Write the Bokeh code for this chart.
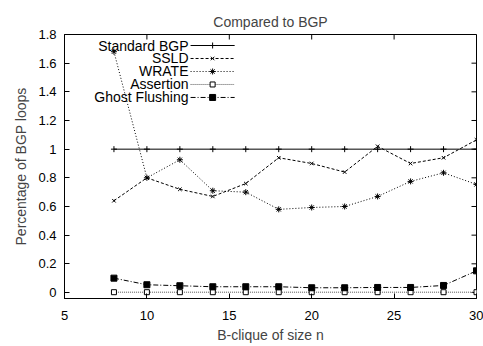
from bokeh.plotting import figure
from bokeh.models import Range1d, FixedTicker
from bokeh.core.properties import value
from bokeh.embed import file_html
from bokeh.resources import INLINE

# ---- data ----
clique_size = [8, 10, 12, 14, 16, 18, 20, 22, 24, 26, 28, 30]
standard_bgp = [1.0, 1.0, 1.0, 1.0, 1.0, 1.0, 1.0, 1.0, 1.0, 1.0, 1.0, 1.0]
ssld = [0.64, 0.80, 0.72, 0.67, 0.76, 0.94, 0.90, 0.84, 1.02, 0.90, 0.94, 1.065]
wrate = [1.68, 0.80, 0.926, 0.71, 0.70, 0.58, 0.593, 0.60, 0.67, 0.775, 0.835, 0.754]
assertion = [0.002, 0.002, 0.002, 0.002, 0.002, 0.002, 0.002, 0.002, 0.002, 0.002, 0.002, 0.002]
ghost_flushing = [0.10, 0.054, 0.047, 0.04, 0.04, 0.04, 0.033, 0.033, 0.035, 0.035, 0.049, 0.151]

series_names = ["Standard BGP", "SSLD", "WRATE", "Assertion", "Ghost Flushing"]
x_ticks = [5, 10, 15, 20, 25, 30]
y_ticks = [0, 0.2, 0.4, 0.6, 0.8, 1.0, 1.2, 1.4, 1.6, 1.8]
y_tick_labels = ["0", "0.2", "0.4", "0.6", "0.8", "1", "1.2", "1.4", "1.6", "1.8"]

FONT = "Liberation Sans"
X0, X1 = 5, 30
Y0, Y1 = -0.042, 1.8
FRAME_W, FRAME_H = 412, 264
TICK_PX = 5

styles = [
    dict(dash="solid", marker="cross", size=6, fill="black", color="black"),
    dict(dash="3 2", marker="x", size=5, fill="black", color="black"),
    dict(dash="1 2", marker="asterisk", size=6, fill="black", color="black"),
    dict(dash="1 1", marker="square", size=5, fill="white", color="#555555"),
    dict(dash="5 2 1 2", marker="square", size=6, fill="black", color="black"),
]
values = [standard_bgp, ssld, wrate, assertion, ghost_flushing]

p = figure(width=483, height=346, x_range=Range1d(X0, X1), y_range=Range1d(Y0, Y1),
           output_backend="svg", toolbar_location=None, title="Compared to BGP",
           min_border_left=64, min_border_right=7, min_border_top=34, min_border_bottom=48)
p.title.align = "center"
p.title.text_font = FONT
p.title.text_font_size = "14px"
p.title.text_font_style = "normal"
p.xgrid.visible = False
p.ygrid.visible = False
p.outline_line_color = "black"
p.outline_line_width = 1
p.background_fill_color = "white"
p.border_fill_color = "white"

for ax, ticks in ((p.xaxis[0], x_ticks), (p.yaxis[0], y_ticks)):
    ax.ticker = FixedTicker(ticks=ticks)
    ax.major_tick_in = TICK_PX
    ax.major_tick_out = 0
    ax.minor_tick_in = 0
    ax.minor_tick_out = 0
    ax.major_label_text_font = FONT
    ax.major_label_text_font_size = "13px"
    ax.major_label_text_color = "black"
    ax.axis_label_text_font = FONT
    ax.axis_label_text_font_size = "14px"
    ax.axis_label_text_font_style = "normal"
    ax.axis_line_color = "black"
    ax.major_tick_line_color = "black"

p.xaxis[0].axis_label = "B-clique of size n"
p.yaxis[0].axis_label = "Percentage of BGP loops"
p.yaxis[0].major_label_overrides = {t: l for t, l in zip(y_ticks, y_tick_labels)}
p.xaxis[0].major_label_standoff = 12
p.xaxis[0].axis_label_standoff = 4
p.yaxis[0].major_label_standoff = 8
p.yaxis[0].axis_label_standoff = 6

xs = X1 - X0
ys_span = Y1 - Y0

# mirror ticks on top and right edges (length in pixels converted through the scales)
dy_tick = ys_span * TICK_PX / FRAME_H
dx_tick = xs * TICK_PX / FRAME_W
p.segment(x0=x_ticks, y0=[Y1] * len(x_ticks), x1=x_ticks, y1=[Y1 - dy_tick] * len(x_ticks),
          line_color="black", line_width=1)
p.segment(x0=[X1] * len(y_ticks), y0=y_ticks, x1=[X1 - dx_tick] * len(y_ticks), y1=y_ticks,
          line_color="black", line_width=1)

for name, ys, st in zip(series_names, values, styles):
    p.line(clique_size, ys, line_color=st["color"], line_width=1, line_dash=st["dash"])
    p.scatter(clique_size, ys, marker=st["marker"], size=st["size"], line_color="black",
              fill_color=st["fill"], line_width=1)

# legend (label right-aligned, sample to the right), placed by fractions of the frame
for i, (name, st) in enumerate(zip(series_names, styles)):
    yy = Y1 - ys_span * (0.0417 + 0.0492 * i)
    p.text([X0 + xs * 0.301], [yy], text=[name], text_align="right", text_baseline="middle",
           text_font=value(FONT), text_font_size="14px", text_color="black")
    p.line([X0 + xs * 0.306, X0 + xs * 0.413], [yy, yy], line_color=st["color"],
           line_width=1, line_dash=st["dash"])
    p.scatter([X0 + xs * 0.3595], [yy], marker=st["marker"], size=st["size"],
              line_color="black", fill_color=st["fill"], line_width=1)

open("out.html", "w").write(file_html(p, INLINE))
